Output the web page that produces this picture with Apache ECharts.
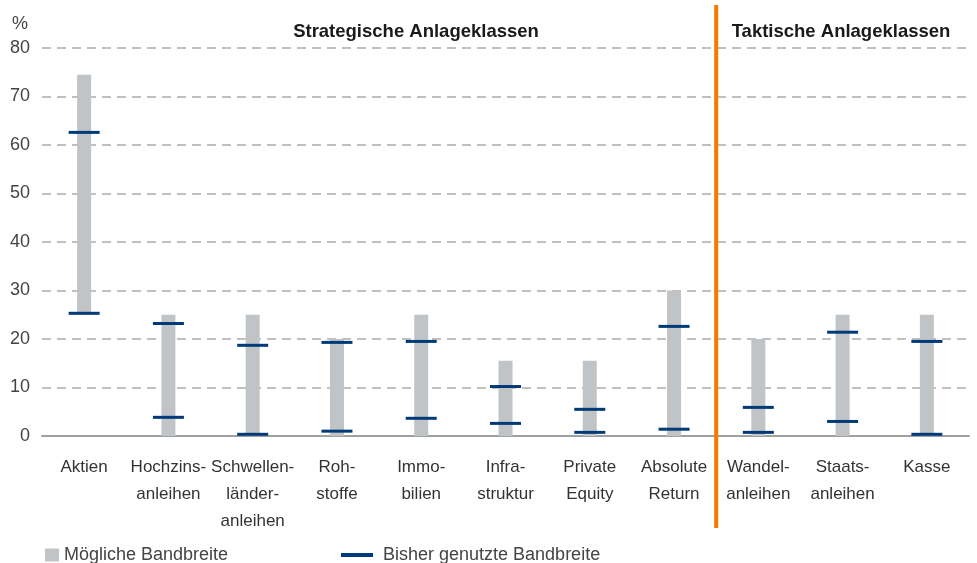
<!DOCTYPE html>
<html><head><meta charset="utf-8">
<script src="https://cdn.jsdelivr.net/npm/echarts@6/dist/echarts.min.js"></script>
<style>html,body{margin:0;padding:0;background:#fff}#c{width:977px;height:563px}</style>
</head><body><div id="c"></div>
<script>
const categories = ['Aktien','Hochzins-\nanleihen','Schwellen-\nländer-\nanleihen','Roh-\nstoffe','Immo-\nbilien','Infra-\nstruktur','Private\nEquity','Absolute\nReturn','Wandel-\nanleihen','Staats-\nanleihen','Kasse'];
const rangeLow  = [25, 0, 0, 0, 0, 0, 0, 0, 0, 0, 0];
const rangeHigh = [74.5, 25, 25, 20, 25, 15.5, 15.5, 30, 20, 25, 25];
const usedHigh  = [62.6, 23.2, 18.7, 19.3, 19.5, 10.2, 5.5, 22.6, 5.9, 21.4, 19.5];
const usedLow   = [25.3, 3.85, 0.35, 1.0, 3.65, 2.6, 0.75, 1.4, 0.75, 3.0, 0.35];
const yTicks = {min: 0, max: 80, interval: 10};

const FONT = '"Liberation Sans", Arial, sans-serif';
const chart = echarts.init(document.getElementById('c'));
const markerSeries = (data) => ({
  type: 'scatter', name: 'Bisher genutzte Bandbreite',
  data: data, symbol: 'rect', symbolSize: [31, 3],
  itemStyle: {color: '#003a78', opacity: 1}, z: 5, silent: true
});
chart.setOption({
  animation: false,
  textStyle: {fontFamily: FONT},
  grid: {left: 42, right: 8, top: 48, bottom: 127},
  title: [
    {text: 'Strategische Anlageklassen', left: 411, top: 17, textAlign: 'center',
     textStyle: {fontFamily: FONT, fontSize: 18.5, fontWeight: 'bold', color: '#1a1a1a'}},
    {text: 'Taktische Anlageklassen', left: 836, top: 17, textAlign: 'center',
     textStyle: {fontFamily: FONT, fontSize: 18.5, fontWeight: 'bold', color: '#1a1a1a'}}
  ],
  legend: [
    {left: 40, top: 541, itemWidth: 14, itemHeight: 13,
     data: [{name: 'Mögliche Bandbreite', icon: 'rect'}],
     textStyle: {fontFamily: FONT, fontSize: 18, color: '#444'}},
    {left: 336, top: 541, itemWidth: 32, itemHeight: 4,
     data: [{name: 'Bisher genutzte Bandbreite', icon: 'rect'}],
     textStyle: {fontFamily: FONT, fontSize: 18, color: '#444', padding: [0, 0, 0, 5]}}
  ],
  xAxis: {
    type: 'category', data: categories,
    axisLine: {lineStyle: {color: '#a0a0a0', width: 2}},
    axisTick: {show: false},
    axisLabel: {interval: 0, fontFamily: FONT, fontSize: 17, color: '#333', lineHeight: 27, margin: 18}
  },
  yAxis: {
    type: 'value', min: yTicks.min, max: yTicks.max, interval: yTicks.interval,
    name: '%', nameLocation: 'end', nameGap: 15,
    nameTextStyle: {fontFamily: FONT, fontSize: 18, color: '#444', align: 'right', padding: [0, 14, 0, 0]},
    axisLine: {show: false}, axisTick: {show: false},
    axisLabel: {fontFamily: FONT, fontSize: 18, color: '#444', margin: 12},
    splitLine: {lineStyle: {color: '#acacac', width: 1.5, type: [9, 6]}}
  },
  series: [
    {type: 'bar', stack: 'r', data: rangeLow, barWidth: 14, itemStyle: {color: 'transparent'}, silent: true},
    {type: 'bar', stack: 'r', name: 'Mögliche Bandbreite', barWidth: 14,
     data: rangeHigh.map((h, i) => h - rangeLow[i]), itemStyle: {color: '#c0c4c6'}, silent: true},
    markerSeries(usedHigh),
    markerSeries(usedLow)
  ]
});
const xa = chart.convertToPixel({xAxisIndex: 0}, 7);
const xb = chart.convertToPixel({xAxisIndex: 0}, 8);
const xm = (xa + xb) / 2;
chart.setOption({graphic: [{type: 'rect', shape: {x: xm - 2, y: 5, width: 4, height: 523}, style: {fill: '#f07d00'}, z: 10}]});
</script></body></html>
